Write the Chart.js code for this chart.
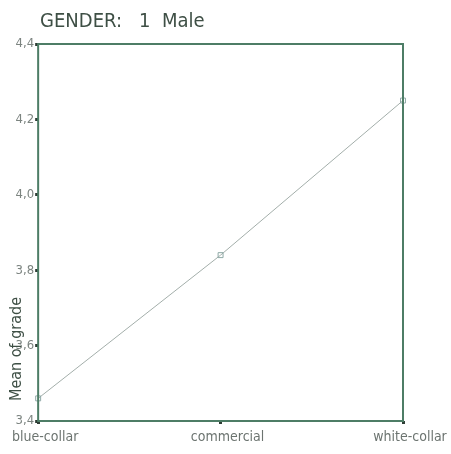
<!DOCTYPE html>
<html>
<head>
<meta charset="utf-8">
<script src="https://cdn.jsdelivr.net/npm/chart.js@4"></script>
<style>
  html, body { margin: 0; padding: 0; background: #fff; }
  #wrap { width: 451px; height: 454px; }
</style>
</head>
<body>
<div id="wrap"><canvas id="grafico" width="451" height="454"></canvas></div>
<script>
// dados
const categorias = ['blue-collar', 'commercial', 'white-collar'];
const mediaNota = [3.46, 3.84, 4.25];
const yTicks = [3.4, 3.6, 3.8, 4.0, 4.2, 4.4];
const titulo = 'GENDER:   1  Male';
const tituloY = 'Mean of grade';

const corEixo = '#4d7d66';
const fonte = "'DejaVu Sans Condensed', 'DejaVu Sans', sans-serif";

// moldura, título e rótulo do eixo y
const extras = {
    id: 'extras',
    afterDraw(chart) {
        const { ctx, chartArea: a } = chart;
        ctx.save();
        ctx.strokeStyle = corEixo;
        ctx.lineWidth = 2;
        ctx.strokeRect(a.left, a.top, a.right - a.left, a.bottom - a.top);

        ctx.fillStyle = '#3e4f45';
        ctx.font = '20px ' + fonte;
        ctx.textBaseline = 'alphabetic';
        ctx.textAlign = 'left';
        ctx.fillText(titulo, 40, 27);

        ctx.translate(21, 401);
        ctx.rotate(-Math.PI / 2);
        ctx.font = '16px ' + fonte;
        ctx.fillStyle = '#3e4f45';
        ctx.fillText(tituloY, 0, 0);
        ctx.restore();
    }
};

const ctx = document.getElementById('grafico').getContext('2d');
new Chart(ctx, {
    type: 'line',
    data: {
        labels: categorias,
        datasets: [{
            label: 'Mean of grade',
            data: mediaNota,
            borderColor: '#a3aeaa',
            borderWidth: 1,
            pointStyle: 'rect',
            pointRadius: 3.5,
            pointBackgroundColor: 'rgba(255,255,255,0)',
            pointBorderColor: '#8fa9a6',
            pointBorderWidth: 1,
            tension: 0
        }]
    },
    options: {
        responsive: false,
        animation: false,
        layout: { padding: { top: 44, right: 48, left: 0, bottom: 0 } },
        plugins: {
            legend: { display: false },
            tooltip: { enabled: false }
        },
        scales: {
            x: {
                offset: false,
                afterFit(s) { s.height = 33; },
                grid: { display: true, drawOnChartArea: false, color: '#2e3d35', tickLength: 3, tickWidth: 3 },
                border: { display: false },
                ticks: {
                    color: '#6c7470',
                    font: { family: fonte, size: 14 },
                    padding: 5,
                    labelOffset: 7,
                    maxRotation: 0,
                    autoSkip: false
                }
            },
            y: {
                min: 3.4,
                max: 4.4,
                afterFit(s) { s.width = 38; },
                afterBuildTicks(s) { s.ticks = yTicks.map(v => ({ value: v })); },
                grid: { display: true, drawOnChartArea: false, color: '#2e3d35', tickLength: 3, tickWidth: 3 },
                border: { display: false },
                ticks: {
                    color: '#7c8480',
                    font: { family: fonte, size: 13 },
                    padding: 1,
                    callback: v => v.toFixed(1).replace('.', ',')
                }
            }
        }
    },
    plugins: [extras]
});
</script>
</body>
</html>
